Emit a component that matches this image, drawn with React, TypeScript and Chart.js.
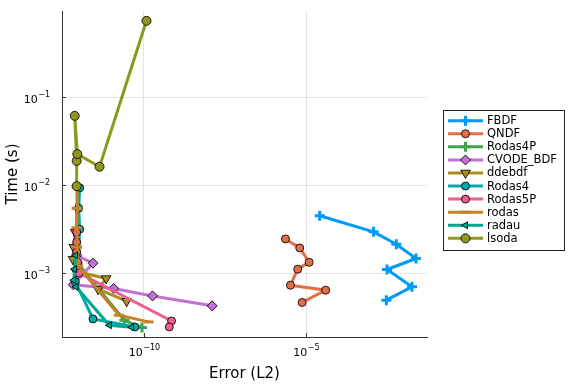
import React, { useEffect, useRef } from 'react';
import { Chart, registerables } from 'chart.js';
import { drawPoint } from 'chart.js/helpers';

Chart.register(...registerables);

const seriesNames = ['FBDF', 'QNDF', 'Rodas4P', 'CVODE_BDF', 'ddebdf', 'Rodas4', 'Rodas5P', 'rodas', 'radau', 'lsoda'];
const seriesColors = ['#009AFA', '#E36F47', '#3EA44E', '#C371D2', '#AC8E18', '#00A9AD', '#ED5E93', '#C68225', '#00A98D', '#8E971E'];

const fbdfErr = [2.6e-5, 1.19e-3, 5.96e-3, 2.41e-2, 3.08e-3, 1.81e-2, 2.94e-3];
const fbdfTime = [4.52e-3, 2.97e-3, 2.15e-3, 1.48e-3, 1.11e-3, 7.05e-4, 4.98e-4];

const qndfErr = [2.29e-6, 6.31e-6, 1.23e-5, 5.47e-6, 3.27e-6, 3.98e-5, 7.48e-6];
const qndfTime = [2.47e-3, 1.95e-3, 1.34e-3, 1.12e-3, 7.36e-4, 6.46e-4, 4.68e-4];

const rodas4pErr = [9.6e-13, 8.5e-13, 8.5e-13, 8.5e-13, 9.1e-13, 2.49e-11, 8.68e-11];
const rodas4pTime = [9.57e-3, 5.52e-3, 3.27e-3, 1.99e-3, 1.31e-3, 2.94e-4, 2.43e-4];

const cvodeErr = [8.5e-13, 2.7e-12, 6.64e-13, 1.17e-11, 1.85e-10, 1.27e-8];
const cvodeTime = [1.61e-3, 1.31e-3, 7.46e-4, 6.76e-4, 5.56e-4, 4.29e-4];

const ddebdfErr = [7.64e-13, 6.87e-13, 6.53e-13, 7.91e-13, 6.87e-12, 3.9e-12, 2.94e-11];
const ddebdfTime = [2.94e-3, 1.99e-3, 1.45e-3, 1.06e-3, 8.77e-4, 6.64e-4, 4.84e-4];

const rodas4Err = [1.05e-12, 9.8e-13, 1.05e-12, 9.12e-13, 7.75e-13, 2.7e-12, 5.28e-11];
const rodas4Time = [9.4e-3, 5.52e-3, 3.18e-3, 1.15e-3, 8.04e-4, 3.05e-4, 2.47e-4];

const rodas5pErr = [8.5e-13, 8.5e-13, 8.5e-13, 9.12e-13, 1.0e-12, 7.11e-10, 6.05e-10];
const rodas5pTime = [2.94e-3, 2.27e-3, 1.75e-3, 1.34e-3, 1.01e-3, 2.89e-4, 2.47e-4];

const rodasErr = [8.5e-13, 8.93e-13, 8.5e-13, 8.8e-13, 9.44e-13, 1.7e-11, 1.4e-10];
const rodasTime = [9.8e-3, 5.48e-3, 3.3e-3, 2.0e-3, 1.21e-3, 3.36e-4, 2.82e-4];

const radauErr = [7.9e-13, 7.38e-13, 6.87e-13, 8.09e-13, 8.61e-12, 4.19e-11];
const radauTime = [1.61e-3, 1.12e-3, 8.39e-4, 7.05e-4, 2.58e-4, 2.45e-4];

const lsodaErr = [8.5e-13, 8.5e-13, 7.4e-13, 8.9e-13, 4.3e-12, 1.2e-10];
const lsodaTime = [9.8e-3, 0.019, 0.0617, 0.0227, 0.0163, 0.74];

const xTickExps = [-10, -5];
const yTickExps = [-3, -2, -1];
const xMin = 3.24e-13;
const xMax = 5.25e-2;
const yMin = 1.9e-4;
const yMax = 0.957;
const xTitle = 'Error (L2)';
const yTitle = 'Time (s)';

const errs = [fbdfErr, qndfErr, rodas4pErr, cvodeErr, ddebdfErr, rodas4Err, rodas5pErr, rodasErr, radauErr, lsodaErr];
const times = [fbdfTime, qndfTime, rodas4pTime, cvodeTime, ddebdfTime, rodas4Time, rodas5pTime, rodasTime, radauTime, lsodaTime];

type MarkerStyle = { pointStyle: string; radius: number; rotation: number; stroke: boolean };
const markers: MarkerStyle[] = [
  { pointStyle: 'cross', radius: 5, rotation: 0, stroke: false },
  { pointStyle: 'circle', radius: 4, rotation: 0, stroke: true },
  { pointStyle: 'cross', radius: 5, rotation: 0, stroke: false },
  { pointStyle: 'rectRot', radius: 5, rotation: 0, stroke: true },
  { pointStyle: 'triangle', radius: 5.5, rotation: 180, stroke: true },
  { pointStyle: 'circle', radius: 4, rotation: 0, stroke: true },
  { pointStyle: 'circle', radius: 4, rotation: 0, stroke: true },
  { pointStyle: 'line', radius: 5, rotation: 0, stroke: false },
  { pointStyle: 'triangle', radius: 4, rotation: -90, stroke: true },
  { pointStyle: 'circle', radius: 4.5, rotation: 0, stroke: true },
];

const FONT = '"DejaVu Sans", sans-serif';
const MINUS = '\u2212';

function drawPow(ctx: CanvasRenderingContext2D, exp: number, x: number, baseY: number, align: 'center' | 'right') {
  const base = '10';
  const e = exp < 0 ? MINUS + String(-exp) : String(exp);
  ctx.font = `11px ${FONT}`;
  const wb = ctx.measureText(base).width;
  ctx.font = `8px ${FONT}`;
  const we = ctx.measureText(e).width;
  const total = wb + we + 0.5;
  const left = align === 'center' ? x - total / 2 : x - total;
  ctx.textAlign = 'left';
  ctx.textBaseline = 'alphabetic';
  ctx.fillStyle = '#000';
  ctx.font = `11px ${FONT}`;
  ctx.fillText(base, left, baseY);
  ctx.font = `8px ${FONT}`;
  ctx.fillText(e, left + wb + 0.5, baseY - 6);
}

const decorPlugin = {
  id: 'decor',
  afterDraw(chart: any) {
    const ctx: CanvasRenderingContext2D = chart.ctx;
    const xs = chart.scales.x;
    const ys = chart.scales.y;
    const area = chart.chartArea;
    ctx.save();
    ctx.strokeStyle = '#333';
    ctx.lineWidth = 1;
    xTickExps.forEach((ex) => {
      const px = Math.round(xs.getPixelForValue(Math.pow(10, ex))) + 0.5;
      ctx.beginPath();
      ctx.moveTo(px, area.bottom);
      ctx.lineTo(px, area.bottom - 4);
      ctx.stroke();
      drawPow(ctx, ex, px, area.bottom + 19, 'center');
    });
    yTickExps.forEach((ex) => {
      const py = Math.round(ys.getPixelForValue(Math.pow(10, ex))) + 0.5;
      ctx.beginPath();
      ctx.moveTo(area.left, py);
      ctx.lineTo(area.left + 4, py);
      ctx.stroke();
      drawPow(ctx, ex, area.left - 12, py + 5, 'right');
    });
    // axis titles
    ctx.fillStyle = '#000';
    ctx.font = `15px ${FONT}`;
    ctx.textAlign = 'center';
    ctx.textBaseline = 'alphabetic';
    ctx.fillText(xTitle, (area.left + area.right) / 2, 378);
    ctx.save();
    ctx.translate(17, (area.top + area.bottom) / 2);
    ctx.rotate(-Math.PI / 2);
    ctx.fillText(yTitle, 0, 0);
    ctx.restore();

    // legend
    const lx = 443.5, ly = 110.5, lw = 121, lh = 140;
    ctx.fillStyle = '#fff';
    ctx.fillRect(lx, ly, lw, lh);
    ctx.strokeStyle = '#222';
    ctx.lineWidth = 1;
    ctx.strokeRect(lx, ly, lw, lh);
    seriesNames.forEach((name, i) => {
      const y = 120.7 + i * 13.07;
      const color = seriesColors[i];
      ctx.strokeStyle = color;
      ctx.lineWidth = 3;
      ctx.beginPath();
      ctx.moveTo(448, y);
      ctx.lineTo(483, y);
      ctx.stroke();
      const m = markers[i];
      ctx.fillStyle = color;
      ctx.strokeStyle = m.stroke ? 'rgba(0,0,0,0.85)' : color;
      ctx.lineWidth = m.stroke ? 1 : 3;
      drawPoint(ctx, { pointStyle: m.pointStyle as any, rotation: m.rotation, radius: m.radius, borderWidth: m.stroke ? 1 : 3 } as any, 465.5, y);
      ctx.fillStyle = '#000';
      ctx.font = `11.5px ${FONT}`;
      ctx.textAlign = 'left';
      ctx.textBaseline = 'middle';
      ctx.fillText(name, 487, y + 0.5);
    });
    ctx.restore();
  },
};

export default function App() {
  const ref = useRef<HTMLCanvasElement | null>(null);
  useEffect(() => {
    if (!ref.current) return;
    const n = seriesNames.length;
    const datasets = seriesNames.map((name, i) => {
      const m = markers[i];
      return {
        label: name,
        data: errs[i].map((e, j) => ({ x: e, y: times[i][j] })),
        borderColor: seriesColors[i],
        backgroundColor: seriesColors[i],
        borderWidth: 3,
        tension: 0,
        fill: false,
        pointStyle: m.pointStyle,
        pointRadius: m.radius,
        pointRotation: m.rotation,
        pointBackgroundColor: seriesColors[i],
        pointBorderColor: m.stroke ? 'rgba(0,0,0,0.85)' : seriesColors[i],
        pointBorderWidth: m.stroke ? 1 : 3,
        order: n - i,
        clip: false as any,
      };
    });
    const chart = new Chart(ref.current, {
      type: 'line',
      data: { datasets: datasets as any },
      options: {
        animation: false,
        responsive: false,
        events: [],
        layout: { autoPadding: false, padding: { left: 62, top: 11, right: 149, bottom: 47 } },
        plugins: { legend: { display: false }, tooltip: { enabled: false } },
        scales: {
          x: {
            type: 'logarithmic',
            min: xMin,
            max: xMax,
            afterBuildTicks: (s: any) => {
              s.ticks = xTickExps.map((e) => ({ value: Math.pow(10, e) }));
            },
            ticks: { display: false },
            grid: { color: 'rgba(0,0,0,0.1)', lineWidth: 1, drawTicks: false },
            border: { display: true, color: '#333', width: 1 },
            title: { display: false },
          },
          y: {
            type: 'logarithmic',
            min: yMin,
            max: yMax,
            afterBuildTicks: (s: any) => {
              s.ticks = yTickExps.map((e) => ({ value: Math.pow(10, e) }));
            },
            ticks: { display: false },
            grid: { color: 'rgba(0,0,0,0.1)', lineWidth: 1, drawTicks: false },
            border: { display: true, color: '#333', width: 1 },
            title: { display: false },
          },
        },
      },
      plugins: [decorPlugin],
    });
    return () => chart.destroy();
  }, []);
  return (
    <div style={{ position: 'fixed', left: 0, top: 0, width: 576, height: 384, background: '#fff' }}>
      <canvas ref={ref} width={576} height={384} style={{ display: 'block' }} />
    </div>
  );
}
